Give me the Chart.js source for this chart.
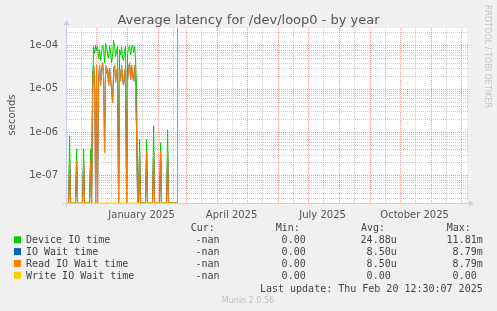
<!DOCTYPE html>
<html>
<head>
<meta charset="utf-8">
<script src="https://cdn.jsdelivr.net/npm/chart.js@4/dist/chart.umd.min.js"></script>
<style>
html, body { margin: 0; padding: 0; background: #f0f0f0; }
canvas { display: block; }
</style>
</head>
<body>
<canvas id="latencyChart" width="497" height="311"></canvas>
<script>
// one value per day, starting 3 Nov 2024 (day 0) up to 20 Feb 2025 (day 110)
const deviceIoTime = [
    0, 0, 8.2e-7, 0, 0, 0, 0, 0, 0, 4.1e-7,
    0, 0, 0, 0, 0, 0, 4.1e-7, 0, 0, 0,
    0, 0, 0, 4.1e-7, 0, 1.5e-5, 9.5e-5, 6.5e-5, 1.0e-4, 7.5e-5,
    9.5e-5, 5.0e-5, 8.0e-5, 4.5e-5, 7.0e-5, 1.0e-4, 8.5e-5, 4.0e-5, 1.1e-4, 9.0e-5,
    6.0e-5, 5.0e-5, 1.0e-4, 7.0e-5, 4.0e-5, 6.0e-5, 1.3e-4, 9.0e-5, 5.5e-5, 7.5e-5,
    9.5e-5, 0, 8.0e-5, 6.0e-5, 9.0e-5, 5.0e-5, 4.5e-5, 8.0e-5, 9.5e-5, 0,
    6.5e-5, 8.5e-5, 1.0e-4, 6.0e-5, 9.0e-5, 1.0e-4, 7.0e-5, 9.5e-5, 4.5e-5, 1.0e-5,
    0, 0, 6.9e-7, 0, 0, 0, 0, 0, 0, 6.9e-7,
    0, 0, 0, 0, 0, 0, 1.4e-6, 0, 0, 0,
    0, 0, 0, 5.7e-7, 0, 0, 0, 0, 0, 0,
    1.13e-6, 0, 0, 0, 0, 0, 0, 0, 0, 0, 0
];
const readIoWaitTime = [
    0, 0, 2.1e-7, 0, 0, 0, 0, 0, 0, 2.1e-7,
    0, 0, 0, 0, 0, 0, 2.1e-7, 0, 0, 0,
    0, 0, 0, 2.1e-7, 0, 8e-6, 3.5e-5, 2.0e-5, 0, 3.5e-5,
    0, 1.5e-5, 3.5e-5, 1.2e-5, 2.5e-5, 4.0e-5, 1.8e-5, 3.3e-7, 3.5e-5, 2.2e-5,
    3.0e-5, 1.2e-5, 3.0e-5, 1.6e-5, 1.0e-5, 4.7e-6, 2.5e-5, 3.5e-5, 1.4e-5, 2.5e-5,
    3.0e-5, 0, 2.8e-5, 1.5e-5, 3.5e-5, 1.6e-5, 1.2e-5, 2.5e-5, 3.0e-5, 0,
    1.6e-5, 3.0e-5, 4.0e-5, 1.6e-5, 3.5e-5, 2.0e-5, 1.5e-5, 3.5e-5, 1.0e-5, 1.0e-6,
    0, 0, 3.6e-7, 0, 0, 0, 0, 0, 0, 3.6e-7,
    0, 0, 0, 0, 0, 0, 3.6e-7, 0, 0, 0,
    0, 0, 0, 3.6e-7, 0, 0, 0, 0, 0, 0,
    3.6e-7, 0, 0, 0, 0, 0, 0, 0, 0, 0, 0
];
// IO wait is the same as read wait here (same avg / max in the legend)
const ioWaitTime = readIoWaitTime.slice();
const writeIoWaitTime = [
    0, 0, 0, 0, 0, 0, 0, 0, 0, 0,
    0, 0, 0, 0, 0, 0, 0, 0, 0, 0,
    0, 0, 0, 0, 0, 0, 0, 0, 0, 0,
    0, 0, 0, 0, 0, 0, 0, 0, 0, 0,
    0, 0, 0, 0, 0, 0, 0, 0, 0, 0,
    0, 0, 0, 0, 0, 0, 0, 0, 0, 0,
    0, 0, 0, 0, 0, 0, 0, 0, 0, 0,
    0, 0, 0, 0, 0, 0, 0, 0, 0, 0,
    0, 0, 0, 0, 0, 0, 0, 0, 0, 0,
    0, 0, 0, 0, 0, 0, 0, 0, 0, 0,
    0, 0, 0, 0, 0, 0, 0, 0, 0, 0, 0
];

const seriesNames = ['Device IO time', 'IO Wait time', 'Read IO Wait time', 'Write IO Wait time'];
const seriesColors = ['#00cc00', '#0066b3', '#ff8000', '#ffcc00'];
const curValues = ['-nan', '-nan', '-nan', '-nan'];
const minValues = ['0.00', '0.00', '0.00', '0.00'];
const avgValues = ['24.88u', '8.50u', '8.50u', '0.00'];
const maxValues = ['11.81m', '8.79m', '8.79m', '0.00'];

const xTickLabels = ['January 2025', 'April 2025', 'July 2025', 'October 2025'];
const yTickLabels = ['1e-07', '1e-06', '1e-05', '1e-04'];
const yTickValues = [1e-7, 1e-6, 1e-5, 1e-4];

const DAY = 86400000;
const axisStart = Date.UTC(2024, 10, 2, 9, 36);
const firstSample = Date.UTC(2024, 10, 3);
const lastUpdate = Date.UTC(2025, 1, 20, 12, 30, 7);
const dayPos = t => (t - axisStart) / DAY;

const yMin = 2.3e-8;
const yMax = 2.52e-4;

// label ticks sit in the middle of their month
const xTickValues = [0, 3, 6, 9].map(m => dayPos(Date.UTC(2025, m, 16)));
let monthStarts = [];
let monthMids = [];
for (let i = 0; i < 15; i++) {
    monthStarts.push(dayPos(Date.UTC(2024, 10 + i, 1)));
    monthMids.push(dayPos(Date.UTC(2024, 10 + i, 16)));
}

let toPoints = (values) => values.map((v, i) => ({
    x: dayPos(firstSample) + i,
    y: Math.max(v, yMin) // zero sits on the bottom of a log axis
}));

const rrdPlugin = {
    id: 'rrdLook',
    beforeDraw(chart) {
        const { ctx, chartArea: a } = chart;
        ctx.save();
        ctx.fillStyle = '#f0f0f0';
        ctx.fillRect(0, 0, chart.width, chart.height);
        ctx.fillStyle = '#ffffff';
        ctx.fillRect(a.left, a.top, a.right - a.left, a.bottom - a.top);
        ctx.restore();
    },
    beforeDatasetsDraw(chart) {
        const { ctx, chartArea: a, scales: { x, y } } = chart;
        let line = (x1, y1, x2, y2) => {
            ctx.beginPath();
            ctx.moveTo(x1, y1);
            ctx.lineTo(x2, y2);
            ctx.stroke();
        };
        ctx.save();
        ctx.lineWidth = 1;
        ctx.setLineDash([1, 1]);

        // minor grid
        ctx.strokeStyle = 'rgba(160,160,160,0.55)';
        for (let e = -8; e <= -4; e++) {
            for (let m = 2; m <= 9; m++) {
                const v = m * Math.pow(10, e);
                if (v < yMin || v > yMax) continue;
                const py = Math.round(y.getPixelForValue(v)) + 0.5;
                line(a.left, py, a.right + 2, py);
            }
        }
        for (const d of monthMids) {
            if (d < 0 || d > 400) continue;
            const px = Math.round(x.getPixelForValue(d)) + 0.5;
            line(px, a.top, px, a.bottom);
        }

        // major grid
        ctx.strokeStyle = 'rgba(220,90,90,0.6)';
        for (const v of yTickValues) {
            const py = Math.round(y.getPixelForValue(v)) + 0.5;
            line(a.left, py, a.right + 2, py);
        }
        for (const d of monthStarts) {
            if (d < 0 || d > 400) continue;
            const px = Math.round(x.getPixelForValue(d)) + 0.5;
            line(px, a.top, px, a.bottom);
        }
        ctx.restore();
    },
    afterDatasetsDraw(chart) {
        const { ctx, chartArea: a, scales: { x } } = chart;
        ctx.save();
        ctx.lineWidth = 1;

        // "now" rule
        const nowX = Math.round(x.getPixelForValue(dayPos(lastUpdate))) + 0.5;
        ctx.strokeStyle = '#999999';
        ctx.beginPath();
        ctx.moveTo(nowX, a.top);
        ctx.lineTo(nowX, a.bottom);
        ctx.stroke();

        // axes with arrows
        const left = Math.round(a.left) - 0.5;
        const bottom = Math.round(a.bottom) + 0.5;
        ctx.strokeStyle = '#c8cdf0';
        ctx.fillStyle = '#c8cdf0';
        ctx.beginPath();
        ctx.moveTo(left, bottom + 3);
        ctx.lineTo(left, a.top - 4);
        ctx.moveTo(left - 4, bottom);
        ctx.lineTo(a.right + 3, bottom);
        ctx.stroke();
        ctx.beginPath();
        ctx.moveTo(left - 3, a.top - 3);
        ctx.lineTo(left + 3, a.top - 3);
        ctx.lineTo(left, a.top - 8);
        ctx.closePath();
        ctx.fill();
        ctx.beginPath();
        ctx.moveTo(a.right + 2, bottom - 3);
        ctx.lineTo(a.right + 2, bottom + 3);
        ctx.lineTo(a.right + 7, bottom);
        ctx.closePath();
        ctx.fill();
        ctx.restore();
    },
    afterDraw(chart) {
        const { ctx } = chart;
        ctx.save();

        ctx.fillStyle = '#555555';
        ctx.font = '13px "DejaVu Sans"';
        ctx.textAlign = 'center';
        ctx.textBaseline = 'alphabetic';
        ctx.fillText('Average latency for /dev/loop0 - by year', 248.5, 24);

        ctx.save();
        ctx.translate(15, 115);
        ctx.rotate(-Math.PI / 2);
        ctx.font = '10px "DejaVu Sans"';
        ctx.fillText('seconds', 0, 0);
        ctx.restore();

        ctx.save();
        ctx.translate(485, 5);
        ctx.rotate(Math.PI / 2);
        ctx.textAlign = 'left';
        ctx.fillStyle = '#c4c4c4';
        ctx.font = '8px "DejaVu Sans"';
        ctx.fillText('RRDTOOL / TOBI OETIKER', 0, 0);
        ctx.restore();

        // legend
        ctx.font = '10px "DejaVu Sans Mono"';
        ctx.fillStyle = '#444444';
        ctx.textAlign = 'left';
        ctx.fillText('Cur:', 190.7, 231);
        ctx.fillText('Min:', 275.7, 231);
        ctx.fillText('Avg:', 361, 231);
        ctx.fillText('Max:', 446.7, 231);

        let baseY = 0;
        let drawValue = (text, numRight) => {
            const unit = /[um]$/.test(text) ? text.slice(-1) : '';
            const num = unit ? text.slice(0, -1) : text;
            ctx.textAlign = 'right';
            ctx.fillText(num, numRight, baseY);
            if (unit) {
                ctx.textAlign = 'left';
                ctx.fillText(unit, numRight, baseY);
            }
        };
        for (let i = 0; i < seriesNames.length; i++) {
            baseY = 243.3 + i * 11.8;
            ctx.fillStyle = seriesColors[i];
            ctx.fillRect(14, baseY - 7, 7, 7);
            ctx.fillStyle = '#444444';
            ctx.textAlign = 'left';
            ctx.fillText(seriesNames[i], 26, baseY);
            drawValue(curValues[i], 219.5);
            drawValue(minValues[i], 305.7);
            drawValue(avgValues[i], 390.7);
            drawValue(maxValues[i], 476.7);
        }
        ctx.textAlign = 'right';
        ctx.fillText('Last update: Thu Feb 20 12:30:07 2025', 482.7, 291.5);

        ctx.textAlign = 'center';
        ctx.fillStyle = '#c0c0c0';
        ctx.font = '8px "DejaVu Sans"';
        ctx.fillText('Munin 2.0.56', 248, 303);
        ctx.restore();
    }
};

const ctx = document.getElementById('latencyChart');
new Chart(ctx, {
    type: 'line',
    data: {
        datasets: [
            { label: seriesNames[0], data: toPoints(deviceIoTime), borderColor: seriesColors[0], order: 4 },
            { label: seriesNames[1], data: toPoints(ioWaitTime), borderColor: seriesColors[1], order: 3 },
            { label: seriesNames[2], data: toPoints(readIoWaitTime), borderColor: seriesColors[2], order: 2 },
            { label: seriesNames[3], data: toPoints(writeIoWaitTime), borderColor: seriesColors[3], order: 1 }
        ]
    },
    options: {
        responsive: false,
        animation: false,
        devicePixelRatio: 1,
        events: [],
        elements: {
            line: { borderWidth: 1, tension: 0 },
            point: { radius: 0 }
        },
        layout: { padding: { left: 0, right: 30, top: 28, bottom: 88 } },
        plugins: {
            legend: { display: false },
            tooltip: { enabled: false }
        },
        scales: {
            x: {
                type: 'linear',
                min: 0,
                max: 400,
                grid: { display: false, drawTicks: false },
                border: { display: false },
                afterFit: (scale) => { scale.height = 20; },
                afterBuildTicks: (scale) => { scale.ticks = xTickValues.map(v => ({ value: v })); },
                ticks: {
                    autoSkip: false,
                    maxRotation: 0,
                    padding: 6,
                    color: '#555555',
                    font: { family: 'DejaVu Sans', size: 10 },
                    callback: (value, index) => xTickLabels[index]
                }
            },
            y: {
                type: 'logarithmic',
                min: yMin,
                max: yMax,
                grid: { display: false, drawTicks: false },
                border: { display: false },
                afterFit: (scale) => { scale.width = 67; },
                afterBuildTicks: (scale) => { scale.ticks = yTickValues.map(v => ({ value: v })); },
                ticks: {
                    autoSkip: false,
                    padding: 9,
                    color: '#555555',
                    font: { family: 'DejaVu Sans', size: 10 },
                    callback: (value, index) => yTickLabels[index]
                }
            }
        }
    },
    plugins: [rrdPlugin]
});
</script>
</body>
</html>
